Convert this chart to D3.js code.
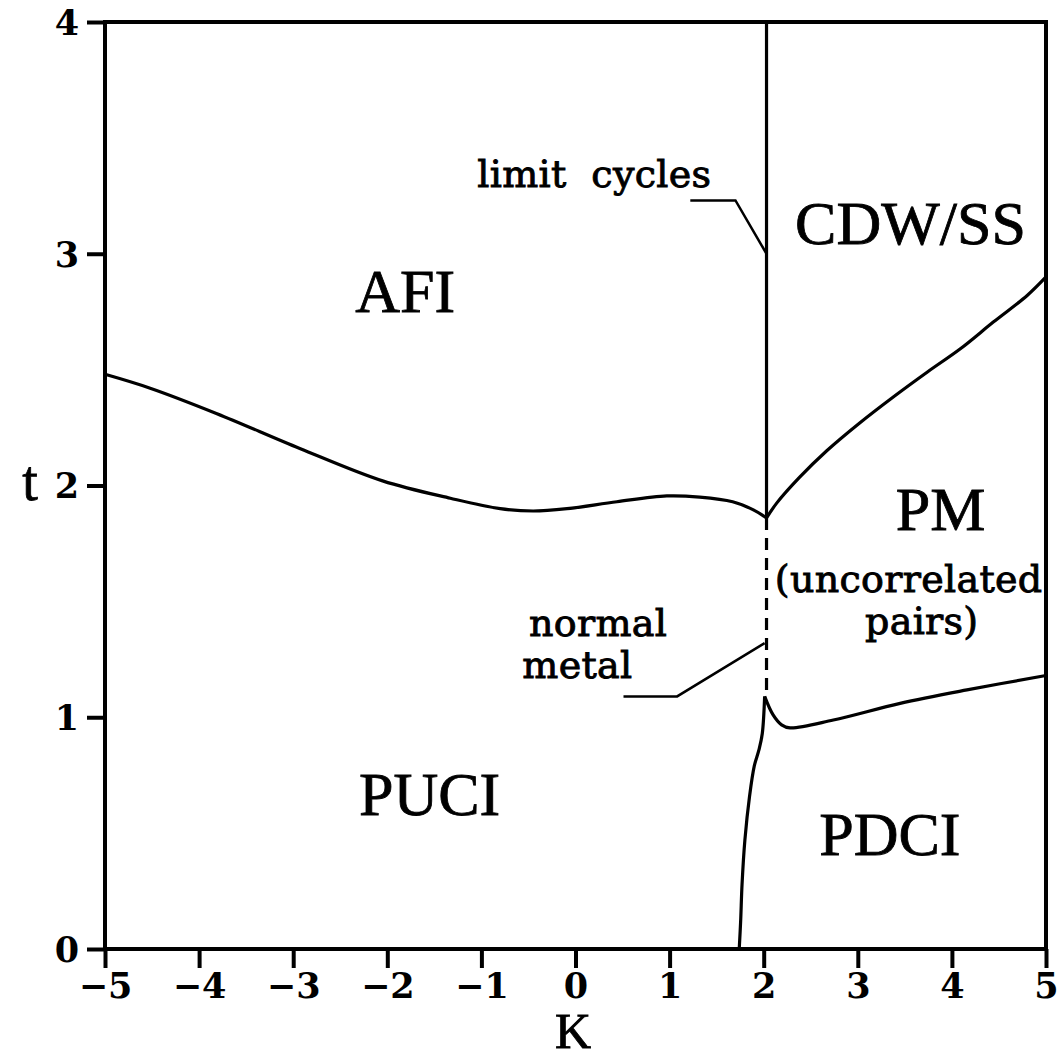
<!DOCTYPE html>
<html>
<head>
<meta charset="utf-8">
<title>Phase diagram</title>
<style>
  body { margin: 0; background: #fff; }
  .curve { fill: none; stroke: #000; stroke-width: 3.2px; }
  .lead { fill: none; stroke: #000; stroke-width: 2.5px; }
  .big { font-family: "Liberation Serif", serif; font-size: 62px; stroke: #000; stroke-width: 0.8px; }
  .small { font-family: "DejaVu Serif", serif; font-size: 38px; letter-spacing: 0.3px; stroke: #000; stroke-width: 0.9px; white-space: pre; }
  .tick text { font-family: "DejaVu Serif", serif; font-weight: bold; font-size: 35px; fill: #000; }
  .tick line { stroke: #000; stroke-width: 4px; }
</style>
<script src="https://d3js.org/d3.v7.min.js"></script>
</head>
<body>
<script>
// axis ticks
var kTicks = [-5, -4, -3, -2, -1, 0, 1, 2, 3, 4, 5];
var tTicks = [0, 1, 2, 3, 4];

// AFI / PUCI boundary
var afiK = [-5, -4.52, -3.81, -2.93, -2.05, -1.33, -0.80, -0.45, -0.09, 0.44, 0.97, 1.32, 1.67, 1.89, 2.03];
var afiT = [2.48, 2.42, 2.31, 2.16, 2.02, 1.945, 1.90, 1.89, 1.90, 1.93, 1.955, 1.95, 1.93, 1.895, 1.86];
// CDW/SS / PM boundary
var cdwK = [2.03, 2.14, 2.38, 2.67, 3.02, 3.37, 3.74, 4.09, 4.44, 4.80, 5.0];
var cdwT = [1.86, 1.925, 2.035, 2.15, 2.27, 2.38, 2.49, 2.59, 2.705, 2.82, 2.90];
// PM / PDCI boundary
var pmK = [2.01, 2.10, 2.19, 2.28, 2.74, 3.45, 4.16, 5.0];
var pmT = [1.09, 1.01, 0.967, 0.954, 0.988, 1.06, 1.118, 1.18];
// PUCI / PDCI boundary
var pdK = [2.01, 1.985, 1.95, 1.90, 1.85, 1.80, 1.77, 1.755, 1.74];
var pdT = [1.09, 0.93, 0.86, 0.79, 0.66, 0.47, 0.28, 0.12, 0];
// vertical line K = 2.03 (solid above, dashed below the cusp)
var vK = 2.03;
var vSolid = [1.86, 4];
var vDash = [1.09, 1.86];
// leader lines
var limitK = [1.22, 1.70, 2.03], limitT = [3.23, 3.23, 3.0];
var normK = [0.51, 1.08, 2.01], normT = [1.09, 1.09, 1.32];

// region labels: text, K, t (baseline)
var labels = [
  ["AFI", -1.81, 2.75, "big"],
  ["CDW/SS", 3.56, 3.04, "big"],
  ["PM", 3.88, 1.81, "big"],
  ["PUCI", -1.55, 0.58, "big"],
  ["PDCI", 3.34, 0.405, "big"],
  ["(uncorrelated", 3.54, 1.54, "small"],
  ["pairs)", 3.68, 1.36, "small"],
  ["limit  cycles", 0.2, 3.29, "small"],
  ["normal", 0.24, 1.35, "small"],
  ["metal", 0.02, 1.17, "small"]
];

var w = 1064, h = 1062;
var svg = d3.select("body").append("svg").attr("width", w).attr("height", h);

var x = d3.scaleLinear().domain([-5, 5]).range([105, 1046]);
var y = d3.scaleLinear().domain([0, 4]).range([949, 22]);

function pts(ks, ts) { return ks.map(function (k, i) { return [k, ts[i]]; }); }

var line = d3.line().x(function (d) { return x(d[0]); }).y(function (d) { return y(d[1]); })
  .curve(d3.curveCatmullRom.alpha(0.5));
var straight = d3.line().x(function (d) { return x(d[0]); }).y(function (d) { return y(d[1]); });

// axes
var xa = svg.append("g").attr("transform", "translate(0," + y(0) + ")")
  .call(d3.axisBottom(x).tickValues(kTicks).tickSize(19).tickPadding(5).tickFormat(d3.format("d")));
var ya = svg.append("g").attr("transform", "translate(" + x(-5) + ",0)")
  .call(d3.axisLeft(y).tickValues(tTicks).tickSize(18).tickPadding(8).tickFormat(d3.format("d")));
xa.select(".domain").remove();
ya.select(".domain").remove();
ya.selectAll(".tick text").attr("dy", "0.35em");

// frame
svg.append("rect").attr("x", x(-5)).attr("y", y(4))
  .attr("width", x(5) - x(-5)).attr("height", y(0) - y(4))
  .attr("fill", "none").attr("stroke", "#000").attr("stroke-width", 4);

// boundaries
[[afiK, afiT], [cdwK, cdwT], [pmK, pmT], [pdK, pdT]].forEach(function (c) {
  svg.append("path").attr("class", "curve").attr("d", line(pts(c[0], c[1])));
});
svg.append("path").attr("class", "curve").attr("d", straight(vSolid.map(function (t) { return [vK, t]; })));
svg.append("path").attr("class", "curve").attr("stroke-dasharray", "12,8")
  .attr("d", straight(vDash.map(function (t) { return [vK, t]; }).reverse()));

svg.append("path").attr("class", "lead").attr("d", straight(pts(limitK, limitT)));
svg.append("path").attr("class", "lead").attr("d", straight(pts(normK, normT)));

// labels
svg.selectAll("text.lab").data(labels).enter().append("text")
  .attr("class", function (d) { return "lab " + d[3]; })
  .attr("x", function (d) { return x(d[1]); })
  .attr("y", function (d) { return y(d[2]); })
  .attr("text-anchor", "middle")
  .text(function (d) { return d[0]; });

// axis titles
svg.append("text").attr("class", "big").attr("x", 30).attr("y", 500)
  .attr("text-anchor", "middle").style("font-size", "56px").text("t");
svg.append("text").attr("class", "big").attr("x", 573).attr("y", 1048)
  .attr("text-anchor", "middle").style("font-size", "50px").text("K");
</script>
</body>
</html>
